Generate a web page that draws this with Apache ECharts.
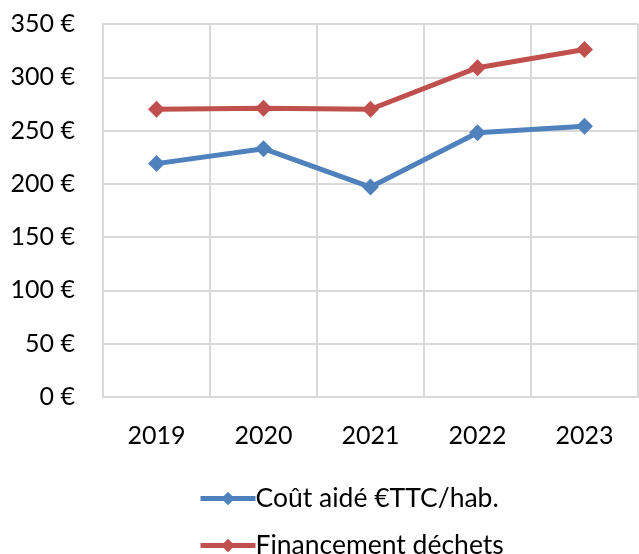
<html>
<head>
<meta charset="utf-8">
<title>Coût aidé</title>
<script src="https://cdn.jsdelivr.net/npm/echarts@6/dist/echarts.min.js"></script>
<style>
  body { margin: 0; background: #fff; }
  #main { width: 639px; height: 554px; }
</style>
</head>
<body>
<div id="main"></div>
<script>
var years = ['2019', '2020', '2021', '2022', '2023'];
var coutAide = [219, 233, 197, 248, 254];
var financement = [270, 271, 270, 309, 326];
var seriesNames = ['Coût aidé €TTC/hab.', 'Financement déchets'];

var chart = echarts.init(document.getElementById('main'));
var font = 'Lato, Open Sans, sans-serif';
var gridColor = '#d9d9d9';

chart.setOption({
    animation: false,
    textStyle: { fontFamily: font },
    grid: { left: 103, right: 1, top: 24, bottom: 157 },
    xAxis: {
        type: 'category',
        data: years,
        boundaryGap: true,
        axisLine: { lineStyle: { color: gridColor, width: 2 } },
        axisTick: { show: false },
        splitLine: { show: true, lineStyle: { color: gridColor, width: 2 } },
        axisLabel: { color: '#000', fontSize: 25, margin: 26, fontFamily: font }
    },
    yAxis: {
        type: 'value',
        min: 0,
        max: 350,
        interval: 50,
        axisLine: { show: true, lineStyle: { color: gridColor, width: 2 } },
        axisTick: { show: false },
        splitLine: { lineStyle: { color: gridColor, width: 2 } },
        axisLabel: { color: '#000', fontSize: 25, margin: 28, fontFamily: font,
            formatter: function (v) { return v + ' €'; } }
    },
    legend: {
        orient: 'vertical',
        left: 198,
        top: 485,
        height: 90,
        padding: 0,
        itemWidth: 55,
        itemHeight: 17,
        itemGap: 20,
        lineStyle: { width: 5 },
        textStyle: { color: '#000', fontSize: 26.5, lineHeight: 25, fontFamily: font, padding: [0, 0, 0, -5] },
        data: seriesNames
    },
    series: [
        {
            name: seriesNames[0],
            type: 'line',
            data: coutAide,
            symbol: 'diamond',
            symbolSize: 17,
            itemStyle: { color: '#4f81bd' },
            lineStyle: { color: '#4f81bd', width: 5 }
        },
        {
            name: seriesNames[1],
            type: 'line',
            data: financement,
            symbol: 'diamond',
            symbolSize: 17,
            itemStyle: { color: '#c0504d' },
            lineStyle: { color: '#c0504d', width: 5 }
        }
    ]
});
</script>
</body>
</html>
